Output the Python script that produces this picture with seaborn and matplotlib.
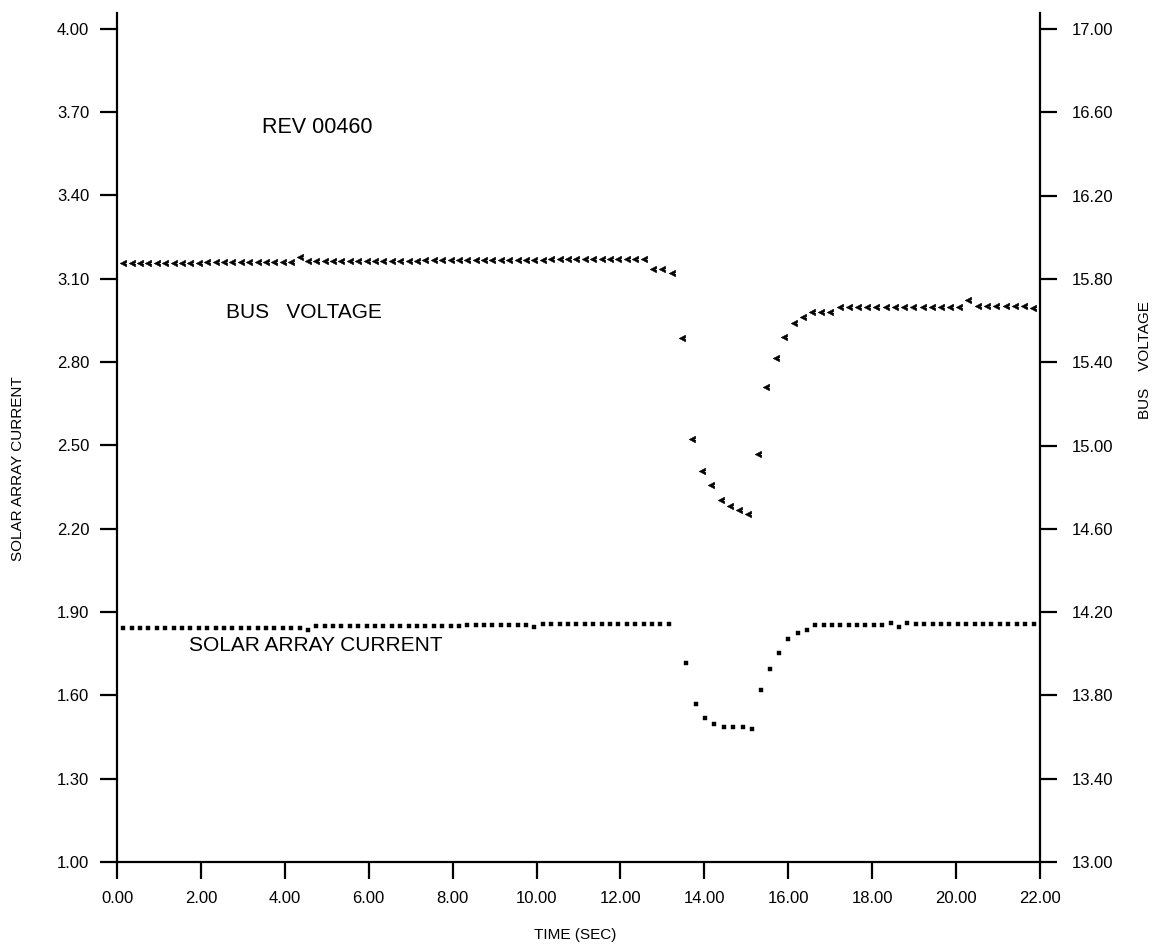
import matplotlib
matplotlib.use("Agg")
import matplotlib.pyplot as plt
import seaborn as sns
import numpy as np

# bus voltage samples (right axis, volts)
volt_time = [
    0.15, 0.35, 0.55, 0.75, 0.95, 1.15, 1.35, 1.55, 1.75, 1.95,
    2.15, 2.35, 2.55, 2.75, 2.95, 3.15, 3.35, 3.55, 3.75, 3.95,
    4.15, 4.35, 4.55, 4.75, 4.95, 5.15, 5.35, 5.55, 5.75, 5.95,
    6.15, 6.35, 6.55, 6.75, 6.95, 7.15, 7.35, 7.55, 7.75, 7.95,
    8.15, 8.35, 8.55, 8.75, 8.95, 9.15, 9.35, 9.55, 9.75, 9.95,
    10.15, 10.35, 10.55, 10.75, 10.95, 11.15, 11.35, 11.55, 11.75, 11.95,
    12.15, 12.35, 12.55,
    12.78, 13.00, 13.24, 13.46, 13.70, 13.94, 14.16, 14.40, 14.60, 14.83,
    15.05, 15.27, 15.47, 15.70, 15.91, 16.13, 16.35, 16.57, 16.78, 17.00,
    17.23, 17.45, 17.66, 17.88, 18.09, 18.32, 18.54, 18.76, 18.98, 19.20,
    19.42, 19.64, 19.86, 20.08, 20.29, 20.52, 20.73, 20.95, 21.18, 21.41,
    21.63, 21.84,
]
volt_values = [
    15.875, 15.875, 15.875, 15.875, 15.875, 15.875, 15.875, 15.875, 15.875, 15.875,
    15.880, 15.880, 15.880, 15.880, 15.880, 15.880, 15.880, 15.880, 15.880, 15.880,
    15.880, 15.905, 15.885, 15.885, 15.885, 15.885, 15.885, 15.885, 15.885, 15.885,
    15.885, 15.885, 15.885, 15.885, 15.885, 15.885, 15.890, 15.890, 15.890, 15.890,
    15.890, 15.890, 15.890, 15.890, 15.890, 15.890, 15.890, 15.890, 15.890, 15.890,
    15.890, 15.895, 15.895, 15.895, 15.895, 15.895, 15.895, 15.895, 15.895, 15.895,
    15.895, 15.895, 15.895,
    15.850, 15.850, 15.830, 15.515, 15.030, 14.880, 14.810, 14.740, 14.710, 14.690,
    14.670, 14.960, 15.280, 15.420, 15.520, 15.590, 15.615, 15.640, 15.640, 15.640,
    15.665, 15.665, 15.665, 15.665, 15.665, 15.665, 15.665, 15.665, 15.665, 15.665,
    15.665, 15.665, 15.665, 15.665, 15.700, 15.670, 15.670, 15.670, 15.670, 15.670,
    15.670, 15.660,
]

# solar array current samples (left axis, amps)
curr_time = [
    0.15, 0.35, 0.55, 0.75, 0.95, 1.15, 1.35, 1.55, 1.75, 1.95,
    2.15, 2.35, 2.55, 2.75, 2.95, 3.15, 3.35, 3.55, 3.75, 3.95,
    4.15, 4.35, 4.55, 4.75, 4.95, 5.15, 5.35, 5.55, 5.75, 5.95,
    6.15, 6.35, 6.55, 6.75, 6.95, 7.15, 7.35, 7.55, 7.75, 7.95,
    8.15, 8.35, 8.55, 8.75, 8.95, 9.15, 9.35, 9.55, 9.75, 9.95,
    10.15, 10.35, 10.55, 10.75, 10.95, 11.15, 11.35, 11.55, 11.75, 11.95,
    12.15, 12.35, 12.55, 12.75, 12.95, 13.15,
    13.56, 13.80, 14.02, 14.24, 14.47, 14.69, 14.91, 15.13, 15.34, 15.57,
    15.79, 16.00, 16.22, 16.44,
    16.64, 16.84, 17.04, 17.24, 17.44, 17.64, 17.84, 18.04, 18.24, 18.44,
    18.64, 18.84, 19.04, 19.24, 19.44, 19.64, 19.84, 20.04, 20.24, 20.44,
    20.64, 20.84, 21.04, 21.24, 21.44, 21.64, 21.86,
]
curr_values = [
    1.843, 1.843, 1.843, 1.843, 1.843, 1.843, 1.843, 1.843, 1.843, 1.843,
    1.843, 1.843, 1.843, 1.843, 1.843, 1.843, 1.843, 1.843, 1.843, 1.843,
    1.843, 1.843, 1.835, 1.848, 1.848, 1.848, 1.848, 1.848, 1.848, 1.848,
    1.848, 1.848, 1.848, 1.848, 1.848, 1.848, 1.848, 1.848, 1.848, 1.848,
    1.848, 1.853, 1.853, 1.853, 1.853, 1.853, 1.853, 1.853, 1.853, 1.845,
    1.858, 1.858, 1.858, 1.858, 1.858, 1.858, 1.858, 1.858, 1.858, 1.858,
    1.858, 1.858, 1.858, 1.858, 1.858, 1.858,
    1.715, 1.569, 1.520, 1.497, 1.487, 1.485, 1.487, 1.478, 1.619, 1.694,
    1.754, 1.802, 1.826, 1.837,
    1.855, 1.855, 1.855, 1.855, 1.855, 1.855, 1.855, 1.855, 1.855, 1.862,
    1.847, 1.862, 1.856, 1.856, 1.856, 1.856, 1.856, 1.856, 1.856, 1.856,
    1.856, 1.856, 1.856, 1.856, 1.856, 1.856, 1.856,
]

x_ticks = [0, 2, 4, 6, 8, 10, 12, 14, 16, 18, 20, 22]
current_ticks = [1.0, 1.3, 1.6, 1.9, 2.2, 2.5, 2.8, 3.1, 3.4, 3.7, 4.0]
voltage_ticks = [13.0, 13.4, 13.8, 14.2, 14.6, 15.0, 15.4, 15.8, 16.2, 16.6, 17.0]

sns.set_theme(style="white")
plt.rcParams["font.family"] = ["Liberation Sans", "DejaVu Sans"]

# bold little chevron, like the printer glyph used for the voltage points
chevron = [(0.55, 0.6), (-0.6, 0.0), (0.55, -0.6), (0.6, -0.15), (0.15, 0.0), (0.6, 0.15), (0.55, 0.6)]

fig = plt.figure(figsize=(11.58, 9.48), dpi=100)
ax = fig.add_axes([117 / 1158, 86 / 948, 923 / 1158, 849 / 948])
ax2 = ax.twinx()

sns.scatterplot(x=curr_time, y=curr_values, ax=ax, marker="s", s=12,
                color="black", edgecolor="black", linewidth=0.3)
sns.scatterplot(x=volt_time, y=volt_values, ax=ax2, marker=chevron, s=22,
                color="black", edgecolor="black", linewidth=0.4)

ax.set_xlim(0, 22)
ax.set_ylim(1.0, 4.057)
ax2.set_ylim(13.0, 17.077)

ax.set_xticks(x_ticks)
ax.set_xticklabels([f"{v:.2f}" for v in x_ticks])
ax.set_yticks(current_ticks)
ax.set_yticklabels([f"{v:.2f}" for v in current_ticks])
ax2.set_yticks(voltage_ticks)
ax2.set_yticklabels([f"{v:.2f}" for v in voltage_ticks])

for a in (ax, ax2):
    a.spines["top"].set_visible(False)
    for side in ("left", "right", "bottom"):
        a.spines[side].set_color("black")
        a.spines[side].set_linewidth(1.6)
    a.grid(False)
ax.spines["right"].set_visible(False)
ax2.spines["left"].set_visible(False)
ax2.spines["bottom"].set_visible(False)

ax.tick_params(axis="x", direction="out", length=12, width=1.6, pad=9,
               labelsize=12, colors="black", bottom=True)
ax.tick_params(axis="y", direction="out", length=12, width=1.6, pad=8,
               labelsize=12, colors="black", left=True)
ax2.tick_params(axis="y", direction="out", length=12, width=1.6, pad=11,
                labelsize=12, colors="black", right=True)

ax.set_xlabel("")
ax.set_ylabel("")
ax2.set_ylabel("")

fig.text(575 / 1158, 1 - 935 / 948, "TIME (SEC)", ha="center", va="center",
         fontsize=11, color="black")
fig.text(18 / 1158, 1 - 469 / 948, "SOLAR ARRAY CURRENT", ha="center", va="center",
         rotation=90, fontsize=11, color="black")
fig.text(1145 / 1158, 1 - 360 / 948, "BUS    VOLTAGE", ha="center", va="center",
         rotation=90, fontsize=11, color="black")

ax.text(3.45, 3.643, "REV 00460", ha="left", va="center", fontsize=15.5, color="black")
ax.text(2.6, 2.977, "BUS   VOLTAGE", ha="left", va="center", fontsize=15, color="black")
ax.text(1.72, 1.779, "SOLAR ARRAY CURRENT", ha="left", va="center", fontsize=15, color="black")

fig.savefig("out.png", dpi=100, facecolor="white")
plt.close(fig)
